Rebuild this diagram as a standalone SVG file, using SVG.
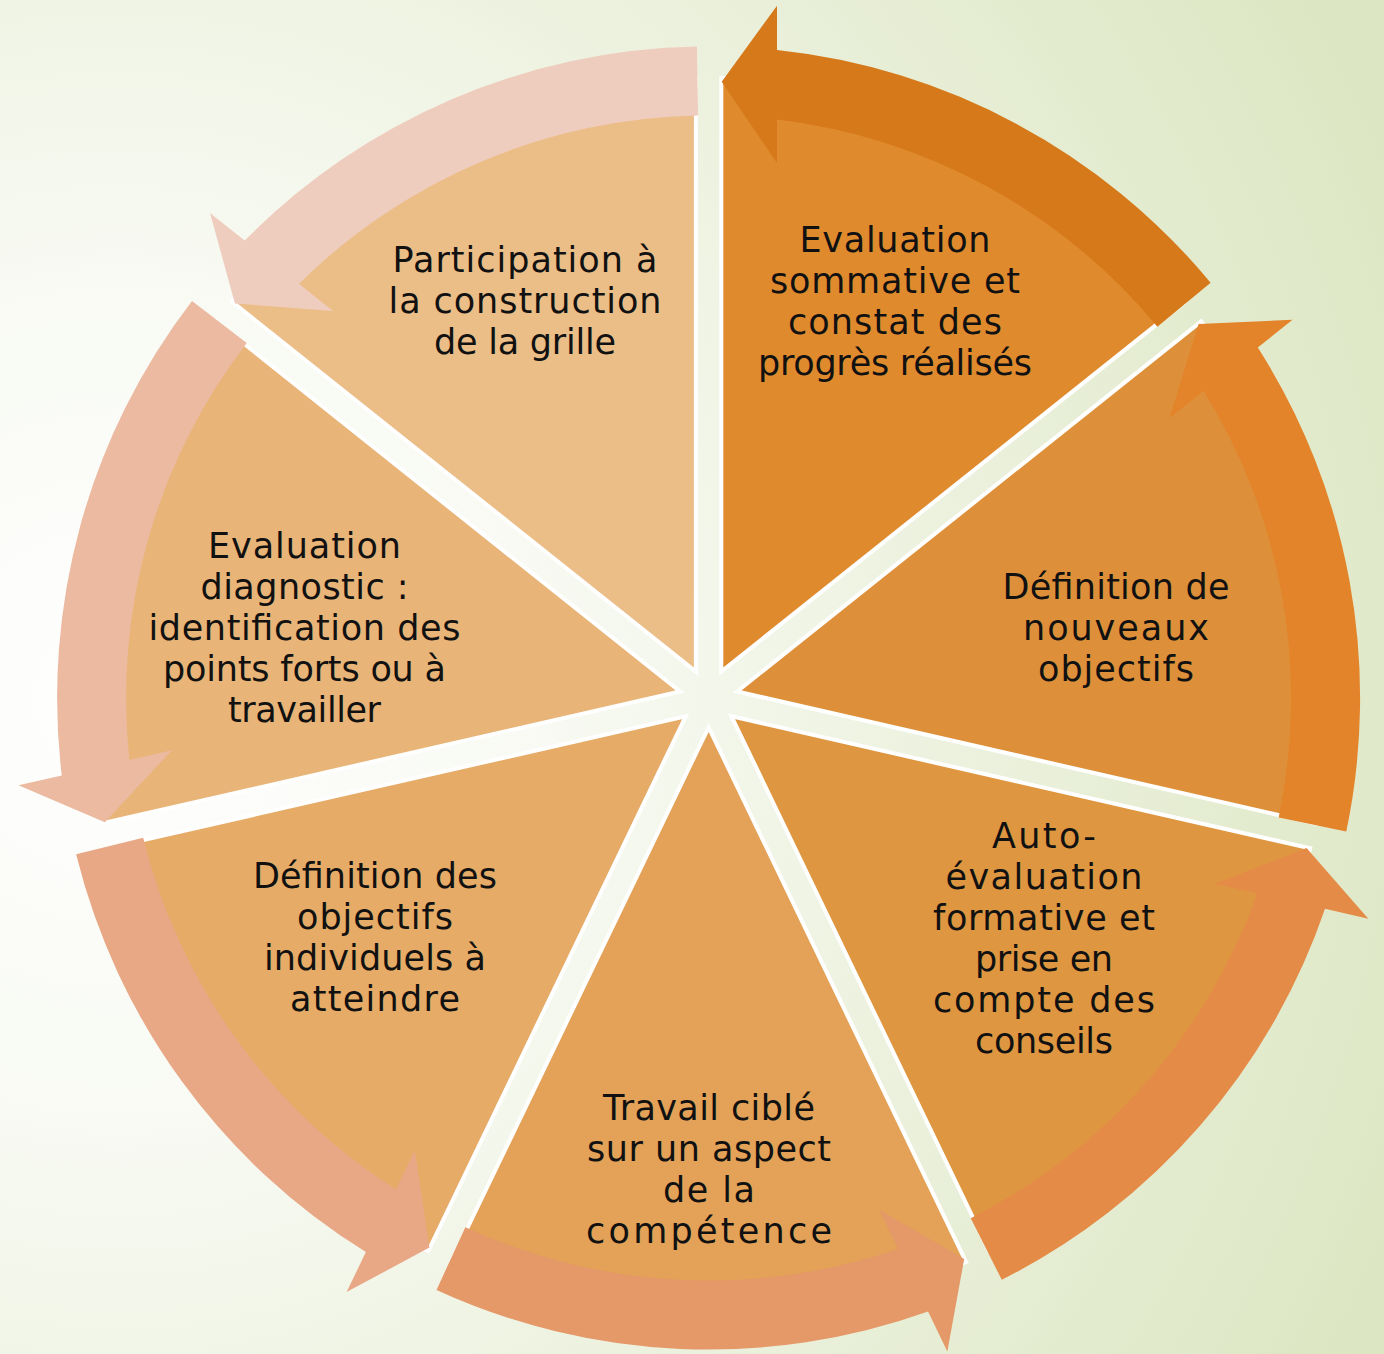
<svg xmlns="http://www.w3.org/2000/svg" xmlns:xlink="http://www.w3.org/1999/xlink" width="1384" height="1354" viewBox="0 0 1384 1354">
<defs>
<radialGradient id="bg" gradientUnits="userSpaceOnUse" cx="120" cy="700" r="1400">
<stop offset="0" stop-color="#ffffff"/>
<stop offset="0.3" stop-color="#f8faf3"/>
<stop offset="1" stop-color="#dce6c2"/>
</radialGradient>
<path id="wedge" d="M721.3,671.6 L721.3,78.1 A620,620 0 0 1 1185.3,301.6 Z"/>
<path id="arrow" d="M721.7,81.7 L777,5.7 L777,50.1 A651.5,651.5 0 0 1 1210.6,282.7 L1157.4,326.7 A582.5,582.5 0 0 0 777,119.5 L777,163 Z"/>
</defs>
<style>
.seg{stroke:#ffffff;stroke-width:4;stroke-linejoin:miter}
.lbl{font-family:"DejaVu Sans","Liberation Sans",sans-serif;font-size:35px;fill:#111111;text-anchor:middle}
</style>
<rect x="0" y="0" width="1384" height="1354" fill="url(#bg)"/>

<g id="node-1">
<use xlink:href="#wedge" class="seg" fill="#e08a2e"/>
<text class="lbl" x="895" y="252" textLength="191">Evaluation</text>
<text class="lbl" x="895" y="293" textLength="250">sommative et</text>
<text class="lbl" x="895" y="334" textLength="214">constat des</text>
<text class="lbl" x="895" y="375" textLength="274">progrès réalisés</text>
</g>
<g id="node-2">
<use xlink:href="#wedge" class="seg" fill="#dd9039" transform="rotate(51.428571 708.6 698)"/>
<text class="lbl" x="1116" y="599" textLength="227">Définition de</text>
<text class="lbl" x="1116" y="640" textLength="186">nouveaux</text>
<text class="lbl" x="1116" y="681" textLength="156">objectifs</text>
</g>
<g id="node-3">
<use xlink:href="#wedge" class="seg" fill="#df9640" transform="rotate(102.857143 708.6 698)"/>
<text class="lbl" x="1044" y="848" textLength="104">Auto-</text>
<text class="lbl" x="1044" y="889" textLength="197">évaluation</text>
<text class="lbl" x="1044" y="930" textLength="222">formative et</text>
<text class="lbl" x="1044" y="971" textLength="138">prise en</text>
<text class="lbl" x="1044" y="1012" textLength="222">compte des</text>
<text class="lbl" x="1044" y="1053" textLength="138">conseils</text>
</g>
<g id="node-4">
<use xlink:href="#wedge" class="seg" fill="#e3a257" transform="rotate(154.285714 708.6 698)"/>
<text class="lbl" x="709" y="1120" textLength="212">Travail ciblé</text>
<text class="lbl" x="709" y="1161" textLength="244">sur un aspect</text>
<text class="lbl" x="709" y="1202" textLength="92">de la</text>
<text class="lbl" x="709" y="1243" textLength="246">compétence</text>
</g>
<g id="node-5">
<use xlink:href="#wedge" class="seg" fill="#e6ab66" transform="rotate(205.714286 708.6 698)"/>
<text class="lbl" x="375" y="888" textLength="244">Définition des</text>
<text class="lbl" x="375" y="929" textLength="156">objectifs</text>
<text class="lbl" x="375" y="970" textLength="222">individuels à</text>
<text class="lbl" x="375" y="1011" textLength="170">atteindre</text>
</g>
<g id="node-6">
<use xlink:href="#wedge" class="seg" fill="#e9b477" transform="rotate(257.142857 708.6 698)"/>
<text class="lbl" x="304.5" y="558" textLength="193">Evaluation</text>
<text class="lbl" x="304.5" y="599" textLength="208">diagnostic :</text>
<text class="lbl" x="304.5" y="640" textLength="312">identification des</text>
<text class="lbl" x="304.5" y="681" textLength="283">points forts ou à</text>
<text class="lbl" x="304.5" y="722" textLength="153">travailler</text>
</g>
<g id="node-7">
<use xlink:href="#wedge" class="seg" fill="#ebbd87" transform="rotate(308.571429 708.6 698)"/>
<text class="lbl" x="525" y="272" textLength="265">Participation à</text>
<text class="lbl" x="525" y="313" textLength="273">la construction</text>
<text class="lbl" x="525" y="354" textLength="182">de la grille</text>
</g>

<g id="connectors">
<use xlink:href="#arrow" fill="#d5791a"/>
<use xlink:href="#arrow" fill="#e3832a" transform="rotate(51.428571 708.6 698)"/>
<use xlink:href="#arrow" fill="#e58b48" transform="rotate(102.857143 708.6 698)"/>
<use xlink:href="#arrow" fill="#e59868" transform="rotate(154.285714 708.6 698)"/>
<use xlink:href="#arrow" fill="#e8a886" transform="rotate(205.714286 708.6 698)"/>
<use xlink:href="#arrow" fill="#ebbaa1" transform="rotate(257.142857 708.6 698)"/>
<use xlink:href="#arrow" fill="#efcdbe" transform="rotate(308.571429 708.6 698)"/>
</g>
</svg>
